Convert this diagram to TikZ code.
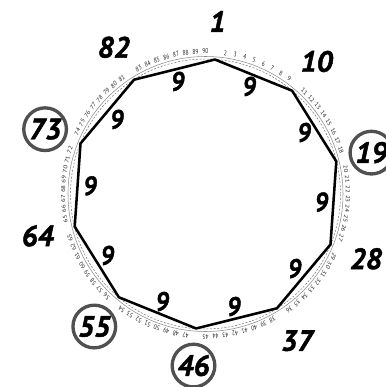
\documentclass[tikz,border=0pt]{standalone}
\usepackage{fontspec}
\setmainfont{PT Sans}
\newfontfamily\labelfont[BoldItalicFeatures={FakeBold=1.6}]{PT Sans}
\definecolor{ringgray}{RGB}{80,80,80}
\tikzset{
  poly/.style={line width=1.9pt, line join=miter},
  biglabel/.style={font=\fontsize{22}{22}\labelfont\bfseries\itshape, inner sep=0pt},
  circled/.style={draw=ringgray, line width=2.5pt, circle, minimum size=32pt, inner sep=0pt},
  ninelabel/.style={font=\fontsize{20}{20}\labelfont\bfseries\itshape, inner sep=0pt, xscale=0.92},
  smallnum/.style={font=\fontsize{5.2}{5.2}\selectfont, inner sep=0pt, text=black!85, xscale=0.8},
  ring/.style={draw=black!45, line width=0.4pt},
  tickring/.style={draw=black!60, line width=0.35pt, dash pattern=on 1.5pt off 1.2pt}
}
\begin{document}
\begin{tikzpicture}[x=0.75pt,y=0.75pt]
\useasboundingbox (0,0) rectangle (386,387);
\begin{scope}[shift={(205.5,193)}]
  \path[ring] (0,0) circle (137.5);
  \path[tickring] (0,0) circle (135);
  \foreach \i in {0,...,9}{
    \coordinate (v\i) at ({86-36*\i}:134.8);
  }
  \draw[poly] (v0) -- (v1) -- (v2) -- (v3) -- (v4) -- (v5) -- (v6) -- (v7) -- (v8) -- (v9) -- cycle;
  \foreach \i in {0,...,9}{
    \node[ninelabel] (e\i) at ({68-36*\i}:116) {9};
  }
  \foreach \n [count=\i from 0] in {1,10,19,28,37,46,55,64,73,82}{
    \ifnum\n=19 \node[biglabel,circled] (l\i) at ({86-36*\i}:171) {\n};
    \else\ifnum\n=46 \node[biglabel,circled] (l\i) at ({86-36*\i}:172) {\n};
    \else\ifnum\n=55 \node[biglabel,circled] (l\i) at ({86-36*\i}:173) {\n};
    \else\ifnum\n=73 \node[biglabel,circled] (l\i) at ({86-36*\i}:173) {\n};
    \else \node[biglabel] (l\i) at ({86-36*\i}:173) {\n};
    \fi\fi\fi\fi
  }
  \foreach \k in {2,...,90}{
    \pgfmathtruncatemacro\m{mod(\k-1,9)}
    \ifnum\m=0 \else
      \pgfmathsetmacro\ang{86-4*(\k-1)}
      \node[smallnum, rotate=\ang-90] (s\k) at (\ang:142.5) {\k};
    \fi
  }
\end{scope}
\end{tikzpicture}
\end{document}
